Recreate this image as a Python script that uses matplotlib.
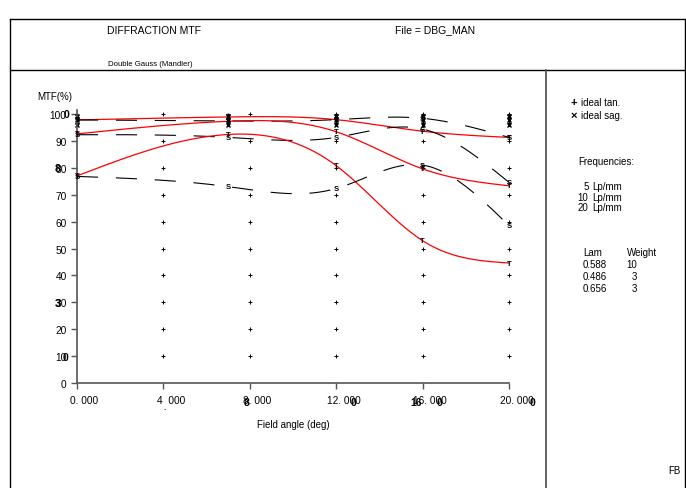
import matplotlib as mpl
mpl.use("agg")
import matplotlib.pyplot as plt
import matplotlib.transforms as mtransforms
import numpy as np

plt.rcParams['font.family'] = ['Liberation Sans', 'DejaVu Sans']

# field points (deg) and MTF (%)
fields = [0, 7, 12, 16, 20]
freqs = [5, 10, 20]
tan_mtf = {5: [97.8, 98.9, 97.9, 93.6, 91.3],
           10: [92.6, 97.3, 93.4, 79.6, 73.3],
           20: [77.0, 92.4, 80.8, 52.9, 44.6]}
sag_mtf = {5: [97.8, 97.4, 97.9, 98.4, 91.3],
           10: [92.3, 91.3, 91.3, 94.4, 74.6],
           20: [76.8, 73.0, 72.3, 81.0, 58.5]}
ideal_tan = [99.6, 98.4, 96.6]
ideal_sag = [99.2, 97.8, 96.0]

xticks = [0, 4, 8, 12, 16, 20]
xtick_labels = ["0. 000", "4  000", "8. 000", "12. 000", "16. 000", "20. 000"]
yticks = list(range(0, 101, 10))
grid_x = [4, 8, 12, 16, 20]
grid_y = list(range(10, 101, 10))

lam = ["0.588", "0.486", "0.656"]
weight = ["10", "3", "3"]

W, H = 686, 489


def fx(px):
    return px / W


def fy(py):
    return 1 - py / H


def spline(x, y, n=300):
    # natural cubic spline through the field points
    x = np.asarray(x, float)
    y = np.asarray(y, float)
    m = len(x)
    h = np.diff(x)
    A = np.zeros((m, m))
    b = np.zeros(m)
    A[0, 0] = A[-1, -1] = 1
    for i in range(1, m - 1):
        A[i, i - 1] = h[i - 1]
        A[i, i] = 2 * (h[i - 1] + h[i])
        A[i, i + 1] = h[i]
        b[i] = 3 * ((y[i + 1] - y[i]) / h[i] - (y[i] - y[i - 1]) / h[i - 1])
    c = np.linalg.solve(A, b)
    xs = np.linspace(x[0], x[-1], n)
    idx = np.clip(np.searchsorted(x, xs) - 1, 0, m - 2)
    dx = xs - x[idx]
    bb = (y[1:] - y[:-1]) / h - h * (2 * c[:-1] + c[1:]) / 3
    d = (c[1:] - c[:-1]) / (3 * h)
    return xs, y[idx] + bb[idx] * dx + c[idx] * dx ** 2 + d[idx] * dx ** 3


fig = plt.figure(figsize=(W / 100, H / 100), dpi=100)

# frame
line_kw = dict(color="black", lw=1.0, transform=fig.transFigure)
fig.add_artist(plt.Line2D([fx(10), fx(685)], [fy(20), fy(20)], **line_kw))
fig.add_artist(plt.Line2D([fx(10), fx(685)], [fy(71), fy(71)], **line_kw))
fig.add_artist(plt.Line2D([fx(10), fx(10)], [fy(20), 0], **line_kw))
fig.add_artist(plt.Line2D([fx(685), fx(685)], [fy(20), 0], **line_kw))
fig.add_artist(plt.Line2D([fx(545.5), fx(545.5)], [fy(71), 0], color="#555555", lw=1.3,
                          transform=fig.transFigure))

fig.text(fx(154), fy(31), "DIFFRACTION MTF", fontsize=7.5, ha="center", va="center")
fig.text(fx(435), fy(30.5), "File = DBG_MAN", fontsize=7.5, ha="center", va="center")
fig.text(fx(150), fy(65), "Double Gauss (Mandler)", fontsize=5.6, ha="center", va="center")
fig.text(fx(37), fy(97), "MTF(%)", fontsize=7, ha="left", va="center")
fig.text(fx(674), fy(471), "FB", fontsize=7, ha="center", va="center")

# axes: x 0..20 -> px 77..509, y 0..100 -> px 384..115
ytop = 101.5
top_px = 384 - ytop * 2.69
ax = fig.add_axes([fx(77), fy(384), fx(509) - fx(77), fy(top_px) - fy(384)])
ax.set_xlim(0, 20)
ax.set_ylim(0, ytop)
for s in ["top", "right"]:
    ax.spines[s].set_visible(False)
for s in ["left", "bottom"]:
    ax.spines[s].set_color("#555555")
    ax.spines[s].set_linewidth(1.2)
ax.spines["bottom"].set_bounds(0, 20)
ax.spines["left"].set_bounds(0, ytop)
ax.set_xticks(xticks)
ax.set_xticklabels(xtick_labels)
ax.set_yticks(yticks)
ax.tick_params(direction="out", length=4.5, width=1, color="#555555", labelsize=7.3, pad=3)
ax.tick_params(axis="x", pad=4)
shift = mtransforms.ScaledTranslation(0.075, 0, fig.dpi_scale_trans)
for lab in ax.get_xticklabels():
    lab.set_transform(lab.get_transform() + shift)
ax.set_xlabel("Field angle (deg)", fontsize=7, labelpad=10)

ax.plot(np.repeat(grid_x, len(grid_y)), np.tile(grid_y, len(grid_x)), "+", color="black",
        ms=3, mew=0.7, ls="none", clip_on=False)

for f in freqs:
    xs, ys = spline(fields, tan_mtf[f])
    ax.plot(xs, ys, color="#ff0000", lw=0.9, clip_on=False)
    xs, ys = spline(fields, sag_mtf[f])
    ax.plot(xs, ys, color="black", lw=0.8, dashes=(19, 16), clip_on=False)
    for x, t, s in zip(fields, tan_mtf[f], sag_mtf[f]):
        ax.text(x, t, "T", fontsize=5.5, fontweight="bold", ha="center", va="center")
        ax.text(x, s, "S", fontsize=5.5, fontweight="bold", ha="center", va="center")

for x in fields:
    ax.plot([x] * len(ideal_tan), ideal_tan, "+", color="black", ms=3.5, mew=1.0, clip_on=False)
    ax.plot([x] * len(ideal_sag), ideal_sag, "x", color="black", ms=3, mew=1.0, clip_on=False)

# overprinted characters
bold = dict(fontsize=7.5, fontweight="bold", ha="center", va="center")
fig.text(fx(66.5), fy(115.5), "0", **bold)
fig.text(fx(57.5), fy(169.5), "8", **bold)
fig.text(fx(57.5), fy(304), "3", **bold)
fig.text(fx(65.5), fy(358), "0", **bold)
fig.text(fx(246.5), fy(403.5), "8", **bold)
fig.text(fx(353), fy(403.5), "0", **bold)
fig.text(fx(416.5), fy(403.5), "16", **bold)
fig.text(fx(439.5), fy(403.5), "0", **bold)
fig.text(fx(532.5), fy(403.5), "0", **bold)
fig.text(fx(165), fy(412), ".", fontsize=6, fontweight="bold", ha="center", va="bottom")

# legend panel
leg = dict(fontsize=7, ha="left", va="center")
fig.text(fx(573.5), fy(103), "+", fontsize=8, fontweight="bold", ha="center", va="center")
fig.text(fx(581), fy(103), "ideal tan.", **leg)
fig.text(fx(573.5), fy(116), "\u00d7", fontsize=8, fontweight="bold", ha="center", va="center")
fig.text(fx(581), fy(116), "ideal sag.", **leg)
fig.text(fx(578), fy(162), "Frequencies:", **leg)
for i, f in enumerate(freqs):
    fig.text(fx(588.5), fy(187 + 10.7 * i), str(f), fontsize=7, ha="right", va="center")
    fig.text(fx(592), fy(187 + 10.7 * i), "Lp/mm", **leg)
fig.text(fx(583), fy(253), "Lam", **leg)
fig.text(fx(627), fy(253), "Weight", **leg)
for i in range(len(lam)):
    fig.text(fx(583), fy(264.5 + 12.3 * i), lam[i], **leg)
    fig.text(fx(637), fy(264.5 + 12.3 * i), weight[i], fontsize=7, ha="right", va="center")

fig.savefig("out.png", dpi=100)
